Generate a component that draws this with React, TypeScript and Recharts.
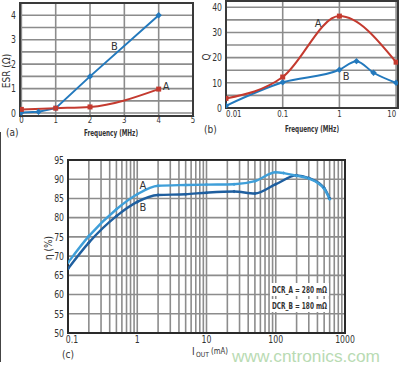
import React from 'react';
import { LineChart, Line, XAxis, YAxis, CartesianGrid, ReferenceArea, ReferenceDot } from 'recharts';

const FONT = "'DejaVu Sans Condensed','Liberation Sans Narrow','Roboto Condensed',sans-serif";
const TXT = '#333';
const RED = '#c43a2f';
const BLUE = '#2379bd';
const LIGHT_BLUE = '#3f9fd9';
const DARK_BLUE = '#1f5f9f';
const GRID = '#8c8c8c';

// (a) ESR vs frequency
const esrFreqA = [0, 1, 2, 4];
const esrValA = [0.15, 0.2, 0.25, 0.98];
const esrFreqB = [0, 0.5, 1, 2, 4];
const esrValB = [0.02, 0.05, 0.2, 1.5, 4];
const esrXTicks = [0, 1, 2, 3, 4, 5];
const esrYTicks = [0, 1, 2, 3, 4];
const esrYGrid = [0, 0.5, 1, 1.5, 2, 2.5, 3, 3.5, 4, 4.5];

// (b) Q vs frequency
const qFreqA = [0.01, 0.1, 1, 10];
const qValA = [3.8, 12.3, 36.5, 18.2];
const qFreqB = [0.01, 0.1, 1, 2, 4, 10];
const qValB = [0.9, 10.2, 15.2, 18.6, 14, 10];
const qXTicks = [0.01, 0.1, 1, 10];
const qYTicks = [0, 10, 20, 30, 40];
const qYGrid = [0, 5, 10, 15, 20, 25, 30, 35, 40];

// (c) efficiency vs output current
const iOutA = [0.1, 0.2, 0.5, 1, 2, 5, 10, 25, 50, 100, 130, 200, 300, 500, 600];
const effA = [68.3, 75.2, 82.2, 86.1, 88.3, 88.5, 88.6, 88.7, 89.5, 91.8, 91.6, 90.9, 90.2, 87.5, 84.8];
const iOutB = [0.1, 0.2, 0.5, 1, 2, 5, 10, 25, 50, 100, 200, 300, 500, 600];
const effB = [66.7, 73.5, 80.4, 84.1, 85.9, 86.1, 86.5, 86.8, 86.3, 88.7, 91.0, 90.3, 87.7, 85.0];
const effXTicks = [0.1, 1, 10, 100, 1000];
const effYTicks = [50, 55, 60, 65, 70, 75, 80, 85, 90, 95];

const toPts = (xs: number[], ys: number[]) => xs.map((x, i) => ({ x, y: ys[i] }));

const decadeGrid: number[] = [];
[0.1, 1, 10, 100].forEach((d) => {
  for (let k = 1; k <= 9; k++) decadeGrid.push(+(k * d).toPrecision(3));
});
decadeGrid.push(1000);

const squareDot = (color: string, s: number) => (p: any) => (
  <rect key={`sq${p.index}`} x={p.cx - s / 2} y={p.cy - s / 2} width={s} height={s} fill={color} />
);
const diamondDot = (color: string, s: number) => (p: any) => (
  <path
    key={`dm${p.index}`}
    d={`M${p.cx},${p.cy - s} L${p.cx + s},${p.cy} L${p.cx},${p.cy + s} L${p.cx - s},${p.cy} Z`}
    fill={color}
  />
);

const SX = 0.82;
const xTick = (size: number, anchors?: (i: number, n: number) => string, shift?: (i: number) => number) => (p: any) => {
  const n = p.visibleTicksCount ?? 0;
  const anchor = anchors ? anchors(p.index, n) : 'middle';
  const dx = shift ? shift(p.index) : 0;
  return (
    <text transform={`translate(${p.x + dx},${p.y}) scale(${SX},1)`} x={0} y={0} dy="0.71em" textAnchor={anchor}
      fontFamily={FONT} fontSize={size} fill={TXT}>
      {p.payload.value}
    </text>
  );
};
const yTick = (size: number) => (p: any) => (
  <text transform={`translate(${p.x},${p.y}) scale(${SX},1)`} x={0} y={0} dy="0.36em" textAnchor="end"
    fontFamily={FONT} fontSize={size} fill={TXT}>
    {p.payload.value}
  </text>
);

const letter = (v: string) => ({ value: v, position: 'center' as const, fill: TXT, fontSize: 11, fontFamily: FONT });

function ChartA() {
  return (
    <LineChart width={200} height={140} margin={{ top: 3, right: 7, bottom: 3, left: 0 }}>
      <CartesianGrid stroke={GRID} strokeWidth={1.6} horizontalValues={esrYGrid} verticalValues={esrXTicks} />
      <XAxis type="number" dataKey="x" domain={[-0.04, 5]} allowDataOverflow ticks={esrXTicks} interval={0}
        height={21} tickSize={0} tickMargin={0} axisLine={false} tickLine={false} tick={xTick(9.5)} />
      <YAxis type="number" dataKey="y" domain={[-0.12, 4.5]} allowDataOverflow ticks={esrYTicks} interval={0}
        width={20} tickSize={0} tickMargin={4} axisLine={false} tickLine={false} tick={yTick(10.5)} />
      <ReferenceArea x1={-0.04} x2={5} y1={-0.12} y2={4.5} fill="none" stroke="#3a3a3a" strokeWidth={2} ifOverflow="visible" />
      <Line data={toPts(esrFreqB, esrValB)} dataKey="y" type="linear" stroke={BLUE} strokeWidth={2}
        dot={diamondDot(BLUE, 3.2)} isAnimationActive={false} />
      <Line data={toPts(esrFreqA, esrValA)} dataKey="y" type="monotone" stroke={RED} strokeWidth={2}
        dot={squareDot(RED, 5)} isAnimationActive={false} />
      <ReferenceDot x={2.71} y={2.73} r={0} fill="none" stroke="none" label={letter('B')} />
      <ReferenceDot x={4.22} y={1.12} r={0} fill="none" stroke="none" label={letter('A')} />
    </LineChart>
  );
}

function ChartB() {
  return (
    <LineChart width={200} height={140} margin={{ top: 1, right: 2, bottom: 12, left: 0 }}>
      <CartesianGrid stroke={GRID} strokeWidth={1.6} horizontalValues={qYGrid} verticalValues={qXTicks} />
      <XAxis type="number" dataKey="x" scale="log" domain={[0.01, 10.8]} allowDataOverflow ticks={qXTicks} interval={0}
        height={20} tickSize={0} tickMargin={2} axisLine={false} tickLine={false}
        tick={xTick(9.5, (i, n) => (i === 0 ? 'start' : i === n - 1 ? 'end' : 'middle'))} />
      <YAxis type="number" dataKey="y" domain={[0, 42.5]} allowDataOverflow ticks={qYTicks} interval={0}
        width={26} tickSize={0} tickMargin={4} axisLine={false} tickLine={false} tick={yTick(10.5)} />
      <ReferenceArea x1={0.01} x2={10.8} y1={0} y2={42.5} fill="none" stroke="#3a3a3a" strokeWidth={2} ifOverflow="visible" />
      <Line data={toPts(qFreqB, qValB)} dataKey="y" type="monotone" stroke={BLUE} strokeWidth={2}
        dot={diamondDot(BLUE, 3.2)} isAnimationActive={false} />
      <Line data={toPts(qFreqA, qValA)} dataKey="y" type="monotone" stroke={RED} strokeWidth={2}
        dot={squareDot(RED, 5)} isAnimationActive={false} />
      <ReferenceDot x={0.42} y={33.6} r={0} fill="none" stroke="none" label={letter('A')} />
      <ReferenceDot x={1.31} y={12.6} r={0} fill="none" stroke="none" label={letter('B')} />
    </LineChart>
  );
}

function ChartC() {
  return (
    <LineChart width={400} height={230} margin={{ top: 20, right: 55, bottom: 17, left: 0 }}>
      <CartesianGrid stroke={GRID} strokeWidth={1.6} horizontalValues={effYTicks} verticalValues={decadeGrid} />
      <XAxis type="number" dataKey="x" scale="log" domain={[0.1, 1000]} allowDataOverflow ticks={effXTicks} interval={0}
        height={20} tickSize={0} tickMargin={3} axisLine={false} tickLine={false}
        tick={xTick(10.5, undefined, (i) => (i === 0 ? 4 : 0))} />
      <YAxis type="number" dataKey="y" domain={[50, 95]} allowDataOverflow ticks={effYTicks} interval={0}
        width={68} tickSize={0} tickMargin={4} axisLine={false} tickLine={false} tick={yTick(10.5)} />
      <ReferenceArea x1={0.1} x2={1000} y1={50} y2={95} fill="none" stroke="#2a2a2a" strokeWidth={2} ifOverflow="visible" />
      <Line data={toPts(iOutB, effB)} dataKey="y" type="monotone" stroke={DARK_BLUE} strokeWidth={2.4}
        dot={diamondDot(DARK_BLUE, 1.8)} isAnimationActive={false} />
      <Line data={toPts(iOutA, effA)} dataKey="y" type="monotone" stroke={LIGHT_BLUE} strokeWidth={2.4}
        dot={diamondDot(LIGHT_BLUE, 1.8)} isAnimationActive={false} />
      <ReferenceDot x={1.21} y={88.5} r={0} fill="none" stroke="none" label={letter('A')} />
      <ReferenceDot x={1.21} y={82.7} r={0} fill="none" stroke="none" label={letter('B')} />
    </LineChart>
  );
}

function Overlay() {
  const t = { fontFamily: FONT, fill: TXT } as const;
  return (
    <svg width={400} height={370} style={{ position: 'absolute', left: 0, top: 0, pointerEvents: 'none' }}>
      <text {...t} fontSize={10} transform="translate(10,71) rotate(-90)" textAnchor="middle">ESR (Ω)</text>
      <text {...t} fontSize={9.5} fontWeight="bold" x={111} y={136} textAnchor="middle" textLength={54} lengthAdjust="spacingAndGlyphs">Frequency (MHz)</text>
      <text {...t} fontSize={10} x={6} y={136}>(a)</text>
      <text {...t} fontSize={10} transform="translate(210,57) rotate(-90)" textAnchor="middle">Q</text>
      <text {...t} fontSize={9.5} fontWeight="bold" x={312} y={132} textAnchor="middle" textLength={54} lengthAdjust="spacingAndGlyphs">Frequency (MHz)</text>
      <text {...t} fontSize={10} x={204} y={133}>(b)</text>
      <text {...t} fontSize={10} transform="translate(52,248) rotate(-90)" textAnchor="middle">η (%)</text>
      <text {...t} fontSize={10} x={192} y={355}>I</text>
      <text {...t} fontSize={7} x={196} y={357} textLength={13} lengthAdjust="spacingAndGlyphs">OUT</text>
      <text {...t} fontSize={9} x={211} y={354} textLength={17} lengthAdjust="spacingAndGlyphs">(mA)</text>
      <text {...t} fontSize={10} x={62} y={358}>(c)</text>
      <rect x={270} y={283} width={59} height={13} fill="#fff" />
      <rect x={270} y={299} width={59} height={13} fill="#fff" />
      <text {...t} fontSize={9.5} fontWeight="bold" x={272} y={293} textLength={55} lengthAdjust="spacingAndGlyphs">DCR_A = 280 mΩ</text>
      <text {...t} fontSize={9.5} fontWeight="bold" x={272} y={309} textLength={55} lengthAdjust="spacingAndGlyphs">DCR_B = 180 mΩ</text>
      <text fontFamily="'Liberation Sans',Arial,sans-serif" fontSize={16} fill="#b9dbb3" x={232} y={362} textLength={148} lengthAdjust="spacingAndGlyphs">www.cntronics.com</text>
      <line x1={0.5} y1={132} x2={0.5} y2={362} stroke="#444" strokeWidth={1} />
    </svg>
  );
}

export default function App() {
  return (
    <div style={{ position: 'absolute', left: 0, top: 0, width: 400, height: 370, background: '#fff' }}>
      <div style={{ position: 'absolute', left: 0, top: 0 }}><ChartA /></div>
      <div style={{ position: 'absolute', left: 200, top: 0 }}><ChartB /></div>
      <div style={{ position: 'absolute', left: 0, top: 140 }}><ChartC /></div>
      <Overlay />
    </div>
  );
}
